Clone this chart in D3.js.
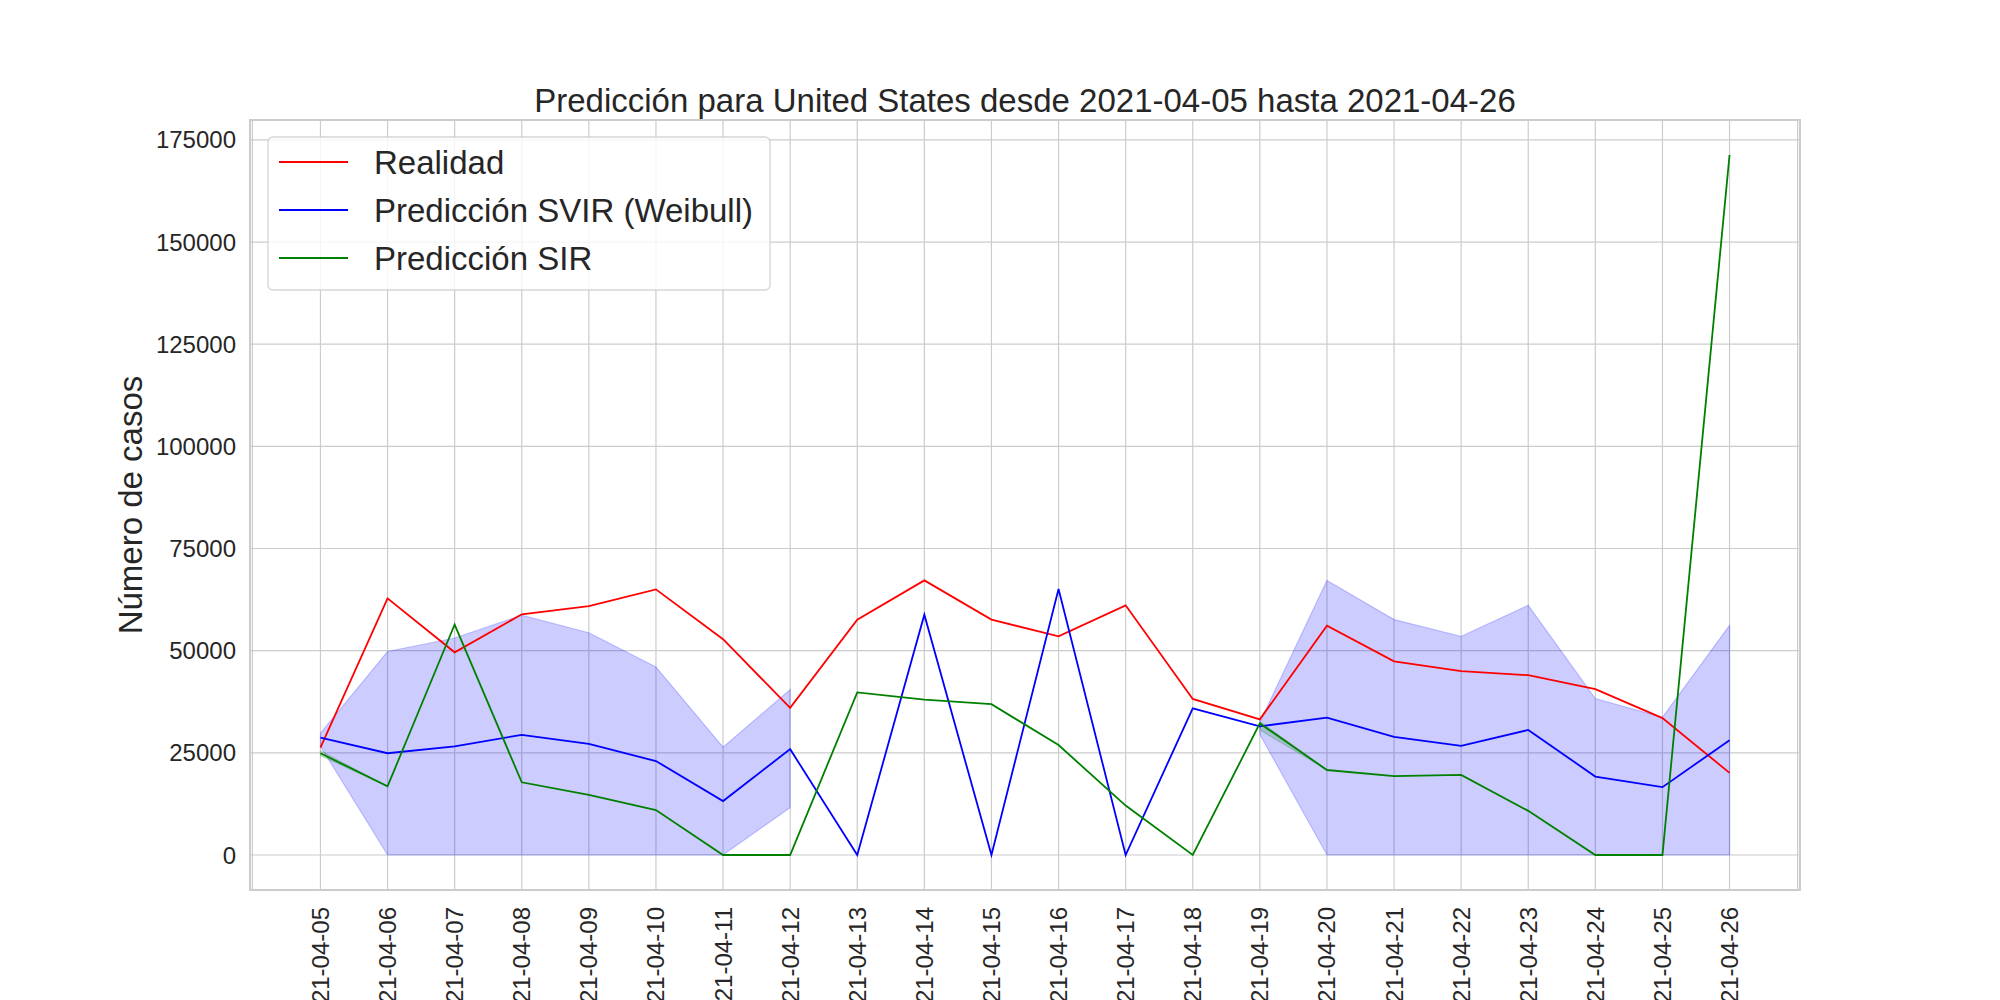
<!DOCTYPE html>
<html>
<head>
<meta charset="utf-8">
<title>Predicción United States</title>
<script src="https://cdn.jsdelivr.net/npm/d3@7"></script>
<style>
  body { margin: 0; background: #fff; }
  text { font-family: "Liberation Sans", Arial, sans-serif; fill: #262626; }
</style>
</head>
<body>
<svg id="chart" width="2000" height="1000"></svg>
<script>
// data
var dates = ["2021-04-05","2021-04-06","2021-04-07","2021-04-08","2021-04-09","2021-04-10",
  "2021-04-11","2021-04-12","2021-04-13","2021-04-14","2021-04-15","2021-04-16","2021-04-17",
  "2021-04-18","2021-04-19","2021-04-20","2021-04-21","2021-04-22","2021-04-23","2021-04-24",
  "2021-04-25","2021-04-26"];

var realidad = [26300, 62800, 49600, 58900, 60900, 65000, 52800, 36000, 57600, 67200, 57600,
  53500, 61100, 38200, 33200, 56100, 47400, 45000, 44000, 40600, 33500, 20100];

var svir = [28700, 24900, 26600, 29400, 27200, 23000, 13200, 25900, 0, 58800, 0,
  65100, 0, 35900, 31500, 33600, 28900, 26700, 30600, 19200, 16600, 28100];
var svirUpper = [29800, 49800, 53100, 58700, 54400, 46000, 26400, 40500, null, null, null,
  null, null, null, 32500, 67200, 57600, 53500, 61100, 38300, 33700, 56200];
var svirLower = [26600, 0, 0, 0, 0, 0, 0, 11600, null, null, null,
  null, null, null, 29500, 0, 0, 0, 0, 0, 0, 0];

var sir = [24900, 16800, 56400, 17800, 14700, 11000, 0, 0, 39800, 38000, 36900,
  26900, 12100, 0, 32200, 20800, 19300, 19600, 10800, 0, 0, 171300];
var sirUpper = [25500, 16800, null, null, null, null, null, null, null, null, null,
  null, null, null, 32700, 20800, null, null, null, null, null, null];
var sirLower = [24300, 16800, null, null, null, null, null, null, null, null, null,
  null, null, null, 30600, 20800, null, null, null, null, null, null];

var yTicks = [0, 25000, 50000, 75000, 100000, 125000, 150000, 175000];

var series = [
  {name: "Realidad", values: realidad, color: "#ff0000"},
  {name: "Predicción SVIR (Weibull)", values: svir, color: "#0000ff"},
  {name: "Predicción SIR", values: sir, color: "#008000"}
];

var axL = 250, axR = 1800, axT = 120, axB = 890;
var svg = d3.select("#chart");

// matplotlib style limits: 5% margins
var n = dates.length;
var x = d3.scaleLinear().domain([-0.05 * (n - 1), (n - 1) * 1.05]).range([axL, axR]);
var ymax = d3.max([realidad, svir, sir, svirUpper], function(a){ return d3.max(a); });
var ymin = 0;
var pad = (ymax - ymin) * 0.05;
var y = d3.scaleLinear().domain([ymin - pad, ymax + pad]).range([axB, axT]);

// grid
var grid = svg.append("g");
grid.selectAll("line.gx").data(dates).enter().append("line")
  .attr("x1", function(d, i){ return x(i); }).attr("x2", function(d, i){ return x(i); })
  .attr("y1", axT).attr("y2", axB)
  .attr("stroke", "#cccccc").attr("stroke-width", 1.2);
grid.selectAll("line.gy").data(yTicks).enter().append("line")
  .attr("x1", axL).attr("x2", axR)
  .attr("y1", function(d){ return y(d); }).attr("y2", function(d){ return y(d); })
  .attr("stroke", "#cccccc").attr("stroke-width", 1.2);

// frame
svg.append("rect").attr("x", axL).attr("y", axT)
  .attr("width", axR - axL).attr("height", axB - axT)
  .attr("fill", "none").attr("stroke", "#cccccc").attr("stroke-width", 2);
[axL + 2.4, axR - 2.4].forEach(function(px){
  svg.append("line").attr("x1", px).attr("x2", px).attr("y1", axT).attr("y2", axB)
    .attr("stroke", "#cccccc").attr("stroke-width", 1.2);
});

// bands
function band(lo, hi, color) {
  var area = d3.area()
    .defined(function(d, i){ return lo[i] != null && hi[i] != null; })
    .x(function(d, i){ return x(i); })
    .y0(function(d, i){ return y(lo[i]); })
    .y1(function(d, i){ return y(hi[i]); });
  svg.append("path").datum(dates).attr("d", area)
    .attr("fill", color).attr("fill-opacity", 0.2)
    .attr("stroke", color).attr("stroke-opacity", 0.2).attr("stroke-width", 1.2);
}
band(svirLower, svirUpper, "#0000ff");
band(sirLower, sirUpper, "#008000");

// lines
var line = d3.line().x(function(d, i){ return x(i); }).y(function(d){ return y(d); });
series.forEach(function(s){
  svg.append("path").datum(s.values).attr("d", line)
    .attr("fill", "none").attr("stroke", s.color).attr("stroke-width", 1.8)
    .attr("stroke-linejoin", "miter");
});

// y tick labels
svg.selectAll("text.yt").data(yTicks).enter().append("text")
  .attr("x", axL - 14).attr("y", function(d){ return y(d); })
  .attr("text-anchor", "end").attr("dominant-baseline", "central")
  .style("font-size", "24px").text(function(d){ return d; });

// x tick labels (rotated)
svg.selectAll("text.xt").data(dates).enter().append("text")
  .attr("transform", function(d, i){ return "translate(" + x(i) + "," + (axB + 17) + ") rotate(-90)"; })
  .attr("text-anchor", "end").attr("dominant-baseline", "central")
  .style("font-size", "24px").text(function(d){ return d; });

// title and axis label
svg.append("text").attr("x", (axL + axR) / 2).attr("y", 112)
  .attr("text-anchor", "middle").style("font-size", "33px")
  .text("Predicción para United States desde " + dates[0] + " hasta " + dates[n - 1]);
svg.append("text").attr("transform", "translate(142," + (axT + axB) / 2 + ") rotate(-90)")
  .attr("text-anchor", "middle").style("font-size", "33px").text("Número de casos");

// legend
var lg = svg.append("g");
lg.append("rect").attr("x", 268).attr("y", 137).attr("width", 502).attr("height", 153)
  .attr("rx", 5).attr("fill", "#ffffff").attr("fill-opacity", 0.8)
  .attr("stroke", "#cccccc").attr("stroke-opacity", 0.8).attr("stroke-width", 1.3);
series.forEach(function(s, i){
  var ly = 162 + i * 48;
  lg.append("line").attr("x1", 279).attr("x2", 348).attr("y1", ly).attr("y2", ly)
    .attr("stroke", s.color).attr("stroke-width", 2);
  lg.append("text").attr("x", 374).attr("y", ly).attr("dominant-baseline", "central")
    .style("font-size", "33px").text(s.name);
});
</script>
</body>
</html>
